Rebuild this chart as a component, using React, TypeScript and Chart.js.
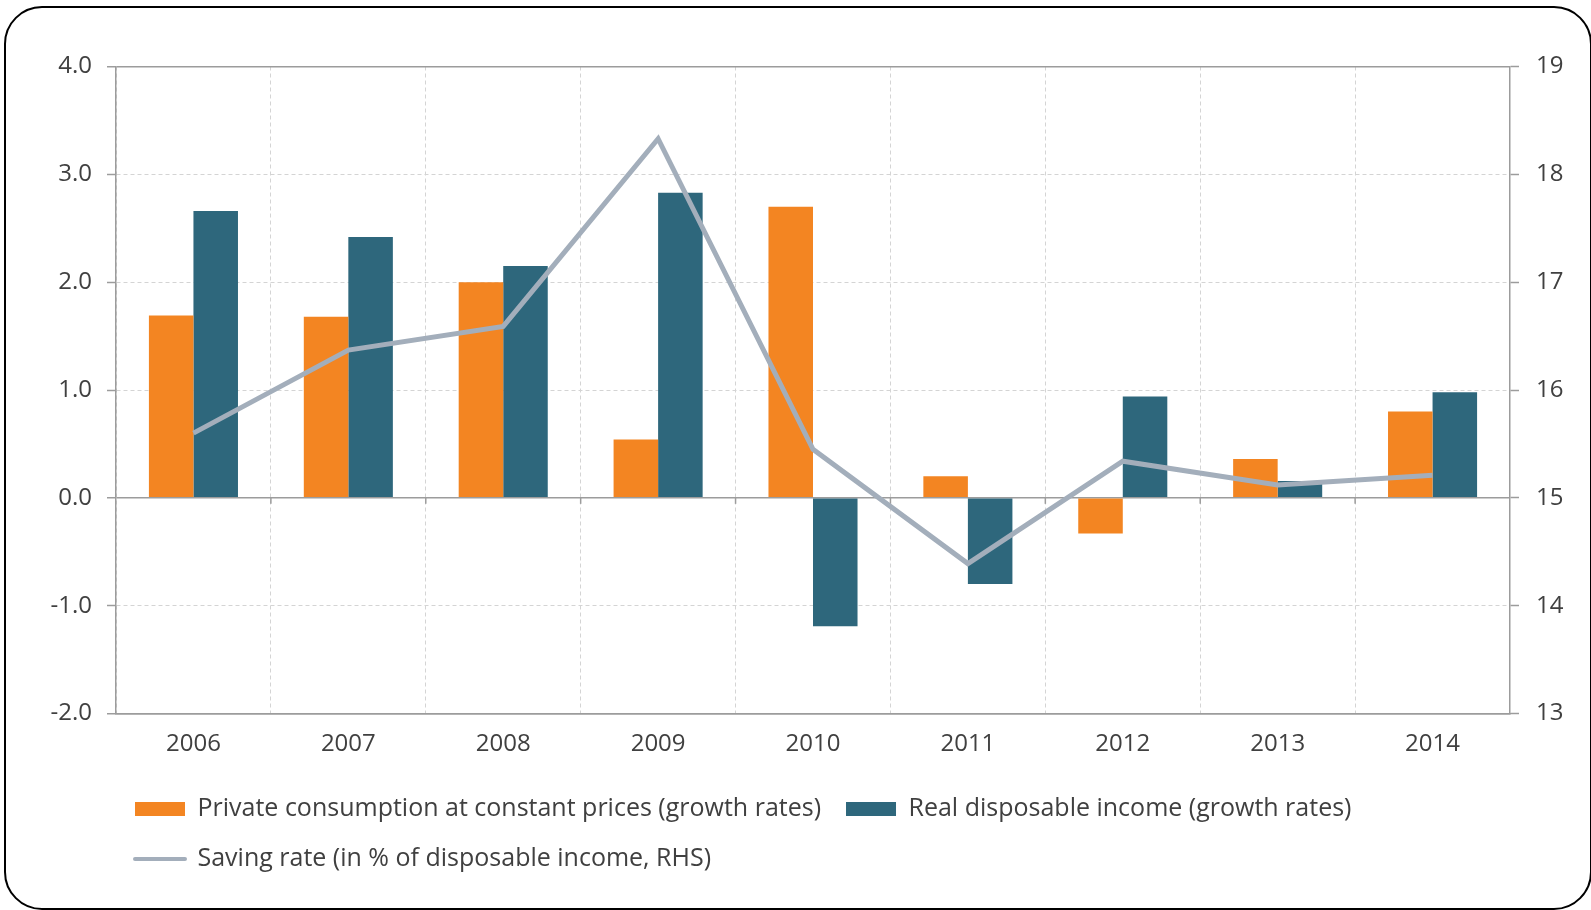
import React, { useEffect, useRef } from "react";
import { Chart, registerables } from "chart.js";

Chart.register(...registerables);

// ---- Data ----
const years = ["2006", "2007", "2008", "2009", "2010", "2011", "2012", "2013", "2014"];
const privateConsumption = [1.69, 1.68, 2.0, 0.54, 2.7, 0.2, -0.33, 0.36, 0.8];
const realDisposableIncome = [2.66, 2.42, 2.15, 2.83, -1.19, -0.8, 0.94, 0.155, 0.98];
const savingRate = [15.6, 16.37, 16.59, 18.33, 15.45, 14.39, 15.34, 15.12, 15.21];

const seriesLabels = [
  "Private consumption at constant prices (growth rates)",
  "Real disposable income (growth rates)",
  "Saving rate (in % of disposable income, RHS)",
];

const leftAxisRange = [-2, 4];
const rightAxisRange = [13, 19];
const solidLeftTicks = [-2, 0, 4];

// ---- Styles ----
const FONT = "'Open Sans', 'Noto Sans', sans-serif";
const TEXT = "#404040";
const AXIS = "#9c9c9c";
const GRID = "#d4d4d4";
const ORANGE = "#f38522";
const TEAL = "#2e677c";
const LINE = "#a3aebb";

const zeroTicks = {
  id: "zeroTicks",
  beforeDatasetsDraw(chart: any) {
    const xs = chart.scales.x;
    const ys = chart.scales.y;
    const ctx = chart.ctx;
    const y0 = ys.getPixelForValue(0);
    ctx.save();
    ctx.strokeStyle = AXIS;
    ctx.lineWidth = 1.5;
    ctx.setLineDash([]);
    for (let i = 0; i < years.length - 1; i++) {
      const px = (xs.getPixelForValue(i) + xs.getPixelForValue(i + 1)) / 2;
      ctx.beginPath();
      ctx.moveTo(px, y0);
      ctx.lineTo(px, y0 + 6);
      ctx.stroke();
    }
    ctx.restore();
  },
};

const legendShift = {
  id: "legendShift",
  afterLayout(chart: any) {
    const lg = chart.legend;
    if (lg) {
      lg.left -= 6;
      lg.right -= 6;
    }
  },
};

const isSolid = (c: any) => c && c.tick && solidLeftTicks.includes(c.tick.value);

export default function App() {
  const ref = useRef<HTMLCanvasElement | null>(null);

  useEffect(() => {
    if (!ref.current) return;
    const chart = new Chart(ref.current, {
      type: "bar",
      data: {
        labels: years,
        datasets: [
          {
            type: "bar",
            label: seriesLabels[0],
            data: privateConsumption,
            backgroundColor: ORANGE,
            borderWidth: 0,
            categoryPercentage: 0.575,
            barPercentage: 1,
            yAxisID: "y",
            order: 1,
          },
          {
            type: "bar",
            label: seriesLabels[1],
            data: realDisposableIncome,
            backgroundColor: TEAL,
            borderWidth: 0,
            categoryPercentage: 0.575,
            barPercentage: 1,
            yAxisID: "y",
            order: 1,
          },
          {
            type: "line",
            label: seriesLabels[2],
            data: savingRate,
            borderColor: LINE,
            backgroundColor: LINE,
            borderWidth: 5,
            pointRadius: 0,
            tension: 0,
            fill: false,
            yAxisID: "y2",
            order: 0,
          },
        ] as any,
      },
      options: {
        responsive: false,
        animation: false,
        layout: { padding: { left: 0, right: 0, top: 66.5, bottom: 28.5 } },
        plugins: {
          tooltip: { enabled: false },
          legend: {
            position: "bottom",
            align: "start",
            fullSize: false,
            labels: {
              usePointStyle: true,
              pointStyleWidth: 50,
              boxHeight: 14,
              padding: 25,
              color: TEXT,
              font: { family: FONT, size: 25 },
              generateLabels: (ch: any) =>
                ch.data.datasets.map((ds: any, i: number) => {
                  const isLine = ds.type === "line";
                  return {
                    text: ds.label,
                    datasetIndex: i,
                    fillStyle: isLine ? ds.borderColor : ds.backgroundColor,
                    strokeStyle: isLine ? ds.borderColor : ds.backgroundColor,
                    lineWidth: isLine ? 4 : 0,
                    lineCap: "round",
                    pointStyle: isLine ? "line" : "rect",
                    hidden: false,
                    fontColor: TEXT,
                  };
                }),
            },
          },
        },
        scales: {
          x: {
            offset: true,
            grid: { offset: true, color: GRID, lineWidth: 1, drawTicks: false },
            border: { color: AXIS, width: 1.5, dash: [4, 3] },
            ticks: { color: TEXT, font: { family: FONT, size: 24 }, padding: 16 },
            afterFit: (s: any) => {
              s.height = 58;
            },
          },
          y: {
            position: "left",
            min: leftAxisRange[0],
            max: leftAxisRange[1],
            ticks: {
              stepSize: 1,
              color: TEXT,
              font: { family: FONT, size: 24 },
              padding: 15,
              callback: (v: any) => Number(v).toFixed(1),
            },
            grid: {
              color: (c: any) => (isSolid(c) ? AXIS : GRID),
              lineWidth: (c: any) => (isSolid(c) ? 1.5 : 1),
              tickLength: 9,
              tickColor: AXIS,
              tickWidth: 1.5,
              tickBorderDash: [],
            },
            border: {
              color: AXIS,
              width: 1.5,
              dash: (c: any) => (isSolid(c) ? [] : [4, 3]),
            } as any,
            afterFit: (s: any) => {
              s.width = 116;
            },
          },
          y2: {
            position: "right",
            min: rightAxisRange[0],
            max: rightAxisRange[1],
            ticks: {
              stepSize: 1,
              color: TEXT,
              font: { family: FONT, size: 24 },
              padding: 17,
            },
            grid: {
              drawOnChartArea: false,
              tickLength: 9,
              tickColor: AXIS,
              tickWidth: 1.5,
            },
            border: { color: AXIS, width: 1.5 },
            afterFit: (s: any) => {
              s.width = 81;
            },
          },
        },
      } as any,
      plugins: [zeroTicks, legendShift],
    });
    return () => chart.destroy();
  }, []);

  return (
    <div style={{ position: "fixed", left: 0, top: 0, width: 1591, height: 910, background: "#fff", overflow: "hidden" }}>
      <div
        style={{
          position: "absolute",
          left: 4,
          top: 6,
          width: 1588,
          height: 904,
          border: "2.5px solid #000",
          borderRadius: 38,
          boxSizing: "border-box",
        }}
      />
      <canvas
        ref={ref}
        width={1591}
        height={910}
        style={{ position: "absolute", left: 0, top: 0, width: 1591, height: 910, display: "block" }}
      />
    </div>
  );
}
